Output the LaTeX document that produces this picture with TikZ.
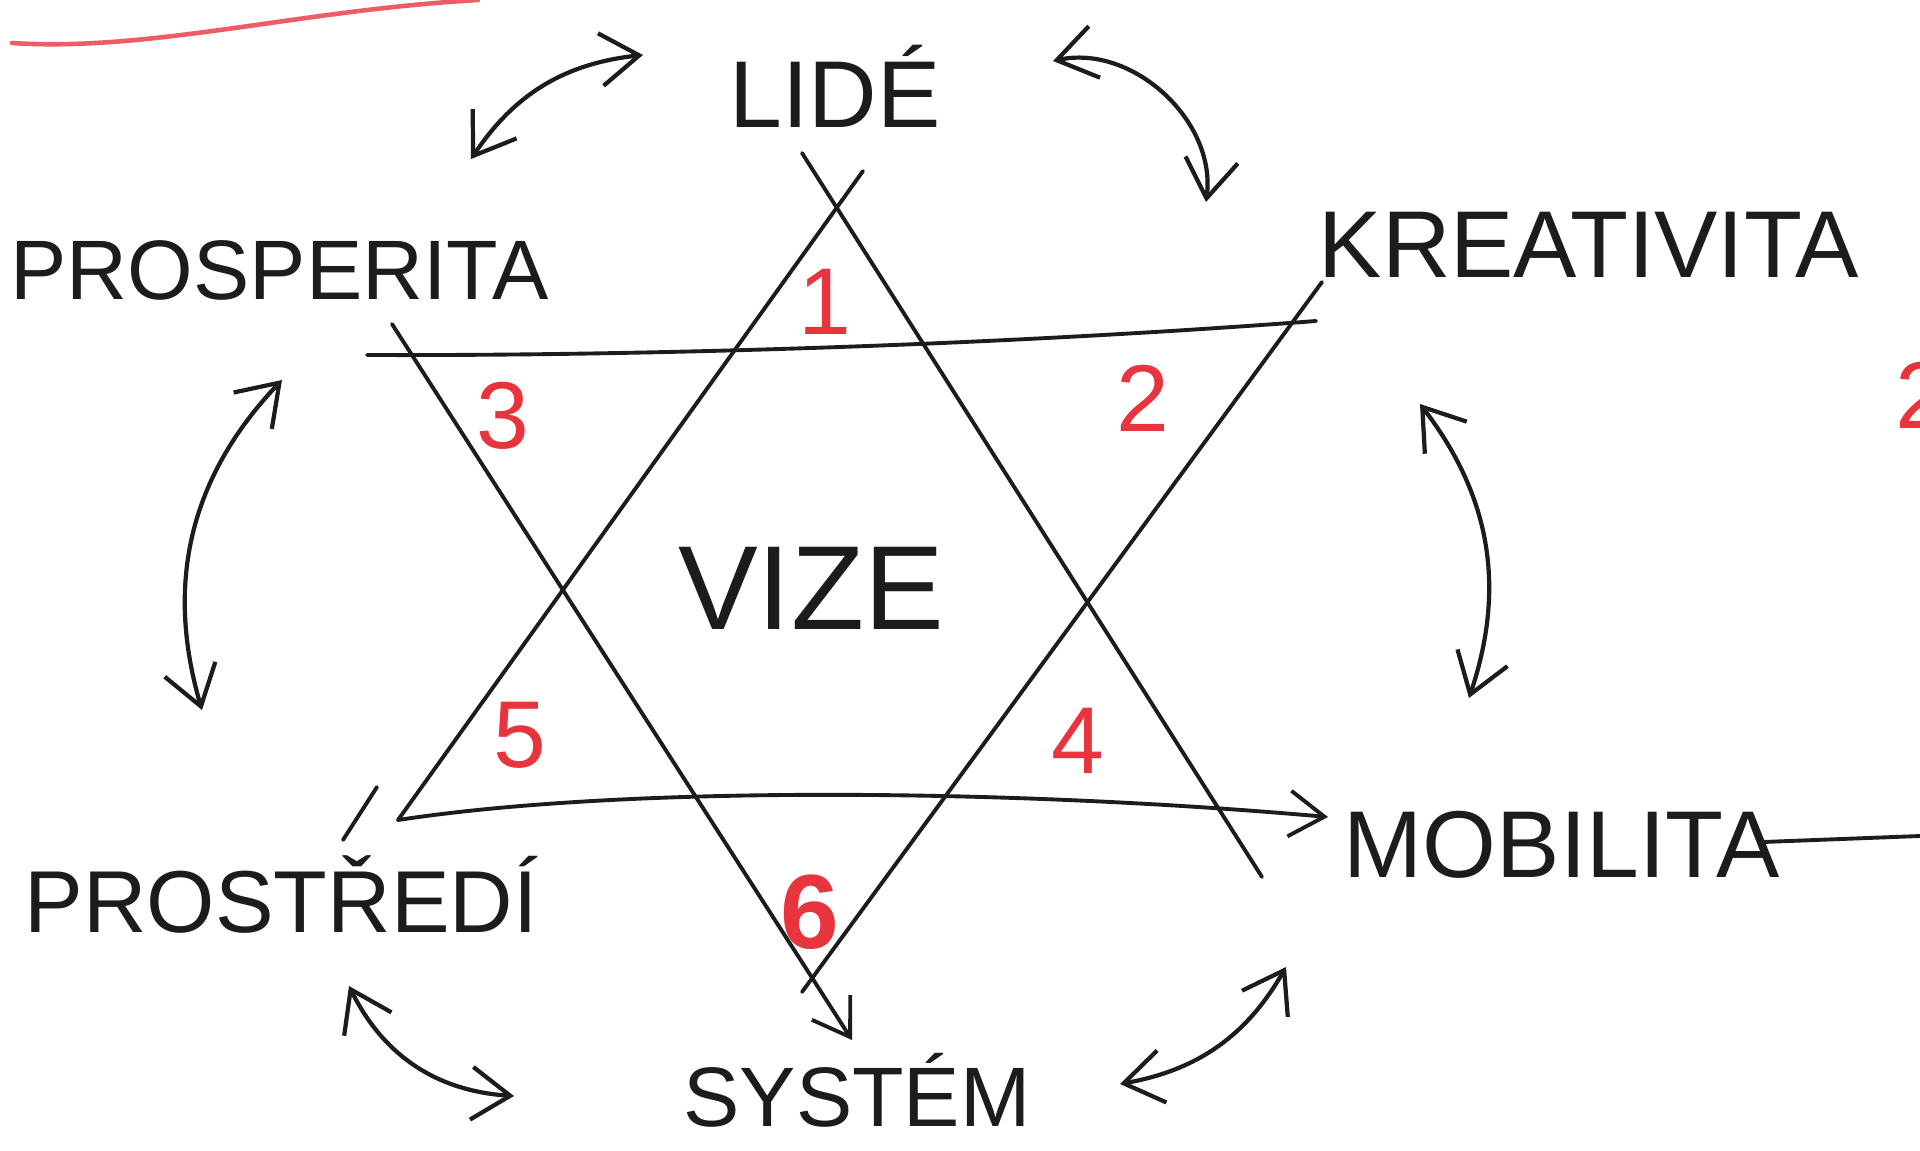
\documentclass[tikz,border=0pt]{standalone}
\usepackage{fontspec}
\setmainfont{Liberation Sans}
\usetikzlibrary{arrows.meta}
\definecolor{Ink}{HTML}{1C1C1C}
\definecolor{RedPen}{HTML}{E8343C}
\definecolor{Paper}{HTML}{FFFFFF}

\begin{document}
\begin{tikzpicture}[
      x=0.01cm,y=-0.01cm,
      word/.style={font=\fontsize{27}{30}\selectfont,text=Ink,inner sep=0pt},
      num/.style={font=\fontsize{27}{30}\selectfont,text=RedPen,inner sep=0pt},
      starline/.style={draw=Ink,line width=1.1pt,line cap=round},
      barb/.style={-{Straight Barb[length=10pt,width=13pt,line width=1.1pt]}},
      twoway/.style={{Straight Barb[length=11pt,width=15pt,line width=1.2pt]}-{Straight Barb[length=11pt,width=15pt,line width=1.2pt]},
        draw=Ink,line width=1.2pt}
    ]
      \useasboundingbox[fill=Paper] (0,0) rectangle (1920,1151);

      % the six values round the star
      \node[word] (lide) at (835,86) {LIDÉ};
      \node[word,anchor=west,font=\fontsize{24}{28}\selectfont] (prosperita) at (10,270) {PROSPERITA};
      \node[word,anchor=west] (kreativita) at (1318,245) {KREATIVITA};
      \node[word,anchor=west,font=\fontsize{25}{28}\selectfont] (prostredi) at (24,894) {PROSTŘEDÍ};
      \node[word,anchor=west] (mobilita) at (1343,845) {MOBILITA};
      \node[word,font=\fontsize{24}{28}\selectfont] (system) at (857,1090) {SYSTÉM};
      \node[word,font=\fontsize{34}{38}\selectfont] (vize) at (811,588) {VIZE};

      % star: upward triangle
      \draw[starline] (863,171) -- (398,820);
      \draw[starline,barb] (398,820) .. controls (620,786) and (1000,788) .. (1328,817);
      \draw[starline] (802,153) -- (1262,877);
      \draw[starline] (377,787) -- (343,840);
      % star: downward triangle
      \draw[starline] (367,355) .. controls (650,356) and (1000,345) .. (1316,321);
      \draw[starline,barb] (392,324) -- (852,1040);
      \draw[starline] (1322,282) -- (802,992);
      \draw[starline] (1763,842) -- (1920,836);

      % numbered points
      \node[num] (n1) at (825,302) {1};
      \node[num] (n2) at (1143,398) {2};
      \node[num] (n3) at (503,416) {3};
      \node[num] (n4) at (1078,741) {4};
      \node[num] (n5) at (520,735) {5};
      \node[num,font=\bfseries\fontsize{30}{34}\selectfont] (n6) at (810,912) {6};

      % ends of the curved arrows
      \coordinate (pl) at (471,159);
      \coordinate (lp) at (643,55);
      \coordinate (lk) at (1053,61);
      \coordinate (kl) at (1206,202);
      \coordinate (pp) at (282,380);
      \coordinate (pr) at (202,710);
      \coordinate (km) at (1420,404);
      \coordinate (mk) at (1469,698);
      \coordinate (rs) at (349,986);
      \coordinate (sr) at (514,1096);
      \coordinate (sm) at (1120,1084);
      \coordinate (ms) at (1286,967);

      \draw[twoway] (pl) to[bend left=25] (lp);
      \draw[twoway] (lk) to[bend left=55] (kl);
      \draw[twoway] (pp) to[bend right=30] (pr);
      \draw[twoway] (km) to[bend left=28] (mk);
      \draw[twoway] (rs) to[bend right=30] (sr);
      \draw[twoway] (sm) to[bend right=25] (ms);

      % marks left on the page
      \draw[RedPen!80,line width=1.3pt,line cap=round] (12,43) .. controls (150,52) and (300,10) .. (478,0);
      \begin{scope}
        \clip (0,0) rectangle (1920,1151);
        \node[num] (n2b) at (1922,395) {2};
      \end{scope}
    \end{tikzpicture}
\end{document}
